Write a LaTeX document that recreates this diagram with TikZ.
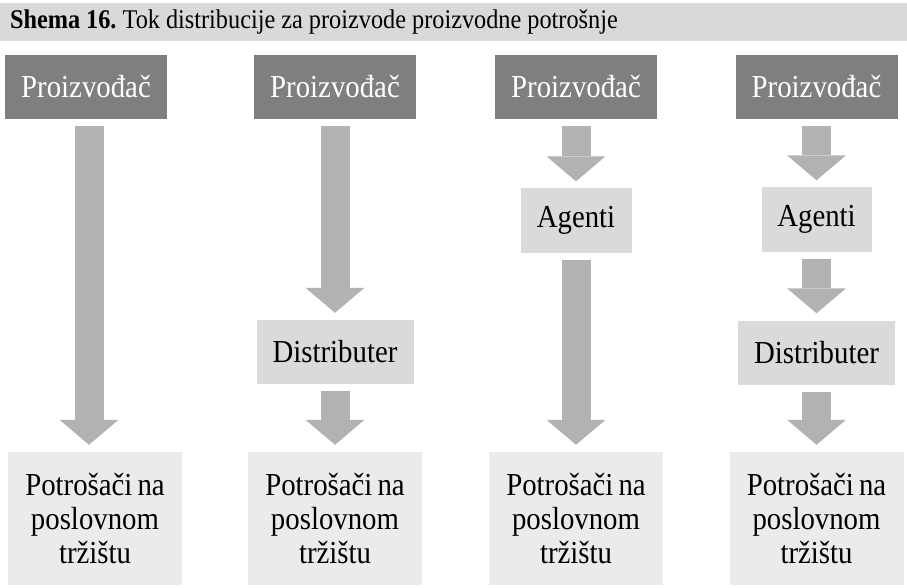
\documentclass[tikz,border=0pt]{standalone}
\usepackage{fontspec}
\setmainfont{Liberation Serif}[FakeStretch=0.9,WordSpace=0.7]
\usepackage{tikz}
\usetikzlibrary{arrows.meta,positioning}
\definecolor{barbg}{HTML}{D9D9D9}
\definecolor{prodbg}{HTML}{7F7F7F}
\definecolor{midbg}{HTML}{DADADA}
\definecolor{userbg}{HTML}{EBEBEB}
\definecolor{flow}{HTML}{B2B2B2}
\newcommand{\tightsp}{\frenchspacing\spaceskip=6pt\relax}
\tikzset{
  bar/.style={fill=barbg,inner xsep=10pt,inner ysep=0pt,text width=887pt,
    minimum height=38pt,align=left,font=\fontsize{27}{30}\selectfont},
  prod/.style={fill=prodbg,text=white,minimum width=162pt,minimum height=64pt,
    inner sep=0pt,font=\fontsize{32}{34}\selectfont},
  mid/.style={fill=midbg,minimum height=64pt,inner sep=0pt,
    font=\fontsize{32}{34}\selectfont},
  user/.style={fill=userbg,minimum width=174pt,minimum height=133pt,inner sep=0pt,
    align=center,font=\fontsize{32}{34}\selectfont},
  blk/.style={draw=flow,line width=29pt,shorten <=7pt,shorten >=7pt,
    -{Triangle[length=25pt,width=59pt,line width=0pt]}},
}

\begin{document}
\begin{tikzpicture}[x=1pt,y=-1pt]
  \useasboundingbox (0,0) rectangle (907,588);
  \node[bar] (title) at (453.5,22) {\tightsp\textbf{Shema 16.} Tok distribucije za proizvode proizvodne potrošnje};
  % producers and business customers, one per column
  \foreach \n/\x/\cx in {1/86/95,2/335/335,3/576/576,4/816.5/816.5}{
    \node[prod] (p\n) at (\x,87) {Proizvođač};
    \node[user] (c\n) at (\cx,518.5) {Potrošači na\\poslovnom\\tržištu};
  }
  \node[mid,minimum width=111pt] (a3) at (576,220.5) {Agenti};
  \node[mid,minimum width=110pt] (a4) at (816.5,219.5) {Agenti};
  \node[mid,minimum width=157pt] (d2) at (335,352) {Distributer};
  \node[mid,minimum width=157pt] (d4) at (816.5,352.5) {Distributer};
  \draw[blk] ([xshift=3pt]p1.south) -- ([xshift=-6pt]c1.north);
  \foreach \a/\b in {p2/d2,d2/c2,p3/a3,a3/c3,p4/a4,a4/d4,d4/c4}
    \draw[blk] (\a) -- (\b);
\end{tikzpicture}
\end{document}
